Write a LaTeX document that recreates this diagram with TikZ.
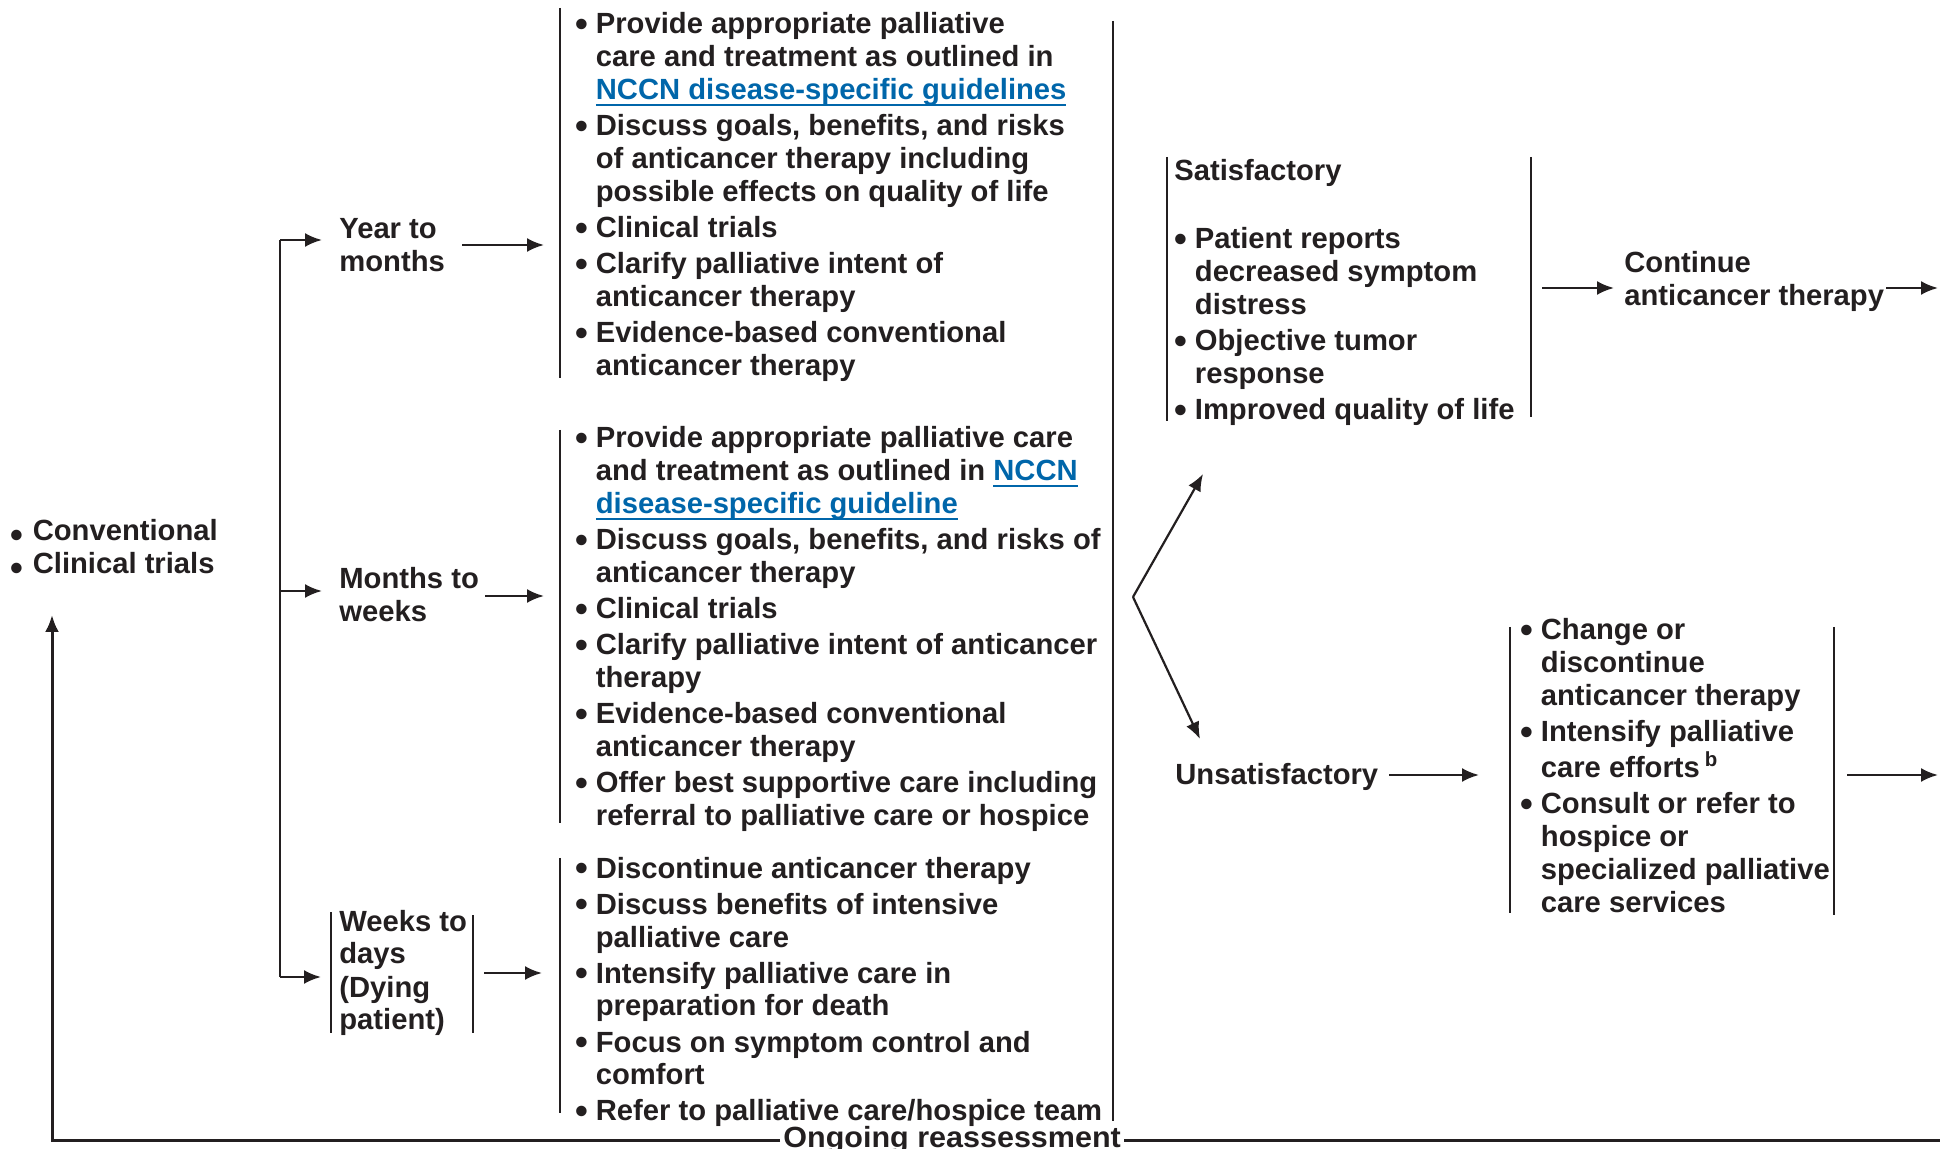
\documentclass[tikz,border=0pt]{standalone}
\usepackage{fontspec}
\setmainfont{Liberation Sans}
\usetikzlibrary{arrows.meta}
\definecolor{ink}{HTML}{231F20}
\definecolor{linkblue}{RGB}{0,102,170}
% bullets and underlined links
\newcommand{\bul}{\makebox[10.25pt][l]{\raisebox{-1.5pt}{\scalebox{1.25}{\textbullet}}}}
\newcommand{\lowbul}{\makebox[11.2pt][l]{\raisebox{-3.4pt}{\scalebox{1.25}{\textbullet}}}}
\newlength{\lnkw}
\newcommand{\lnk}[1]{\settowidth{\lnkw}{#1}\textcolor{linkblue}{\rlap{\rule[-3.1pt]{\lnkw}{1.1pt}}#1}}
\newcommand{\gap}{\\[1.5pt]}
\begin{document}
\begin{tikzpicture}[x=0.5pt,y=-0.5pt,
  txt/.style={inner sep=0pt, anchor=base west, text=ink,
    font=\fontsize{14.6}{16.5}\selectfont\bfseries},
  arr/.style={draw=ink, line width=1.2pt, -{Latex[length=8.5pt,width=7pt]}},
  bracket/.style={draw=ink, line width=1.1pt},
  loopline/.style={draw=ink, line width=1.5pt}]
\useasboundingbox (0,0) rectangle (1940,1149);

% ---------- text blocks ----------
\node[txt] (conv) at (10,541) {\begin{tabular}[t]{@{}l@{}l@{}}
\lowbul & Conventional\\
\lowbul & Clinical trials
\end{tabular}};

\node[txt] (ym) at (339,239) {\begin{tabular}[t]{@{}l@{}}Year to\\months\end{tabular}};
\node[txt] (mw) at (339,589) {\begin{tabular}[t]{@{}l@{}}Months to\\weeks\end{tabular}};
\node[txt] (wd) at (339,931) {\begin{tabular}[t]{@{}l@{}}Weeks to\\days\\(Dying\\patient)\end{tabular}};

\node[txt] (care1) at (575,34) {\begin{tabular}[t]{@{}l@{}l@{}}
\bul & Provide appropriate palliative\\
 & care and treatment as outlined in\\
 & \lnk{NCCN disease-specific guidelines}\gap
\bul & Discuss goals, benefits, and risks\\
 & of anticancer therapy including\\
 & possible effects on quality of life\gap
\bul & Clinical trials\gap
\bul & Clarify palliative intent of\\
 & anticancer therapy\gap
\bul & Evidence-based conventional\\
 & anticancer therapy
\end{tabular}};

\node[txt] (care2) at (575,448) {\begin{tabular}[t]{@{}l@{}l@{}}
\bul & Provide appropriate palliative care\\
 & and treatment as outlined in \lnk{NCCN}\\
 & \lnk{disease-specific guideline}\gap
\bul & Discuss goals, benefits, and risks of\\
 & anticancer therapy\gap
\bul & Clinical trials\gap
\bul & Clarify palliative intent of anticancer\\
 & therapy\gap
\bul & Evidence-based conventional\\
 & anticancer therapy\gap
\bul & Offer best supportive care including\\
 & referral to palliative care or hospice
\end{tabular}};

\node[txt] (care3) at (575,878) {\begin{tabular}[t]{@{}l@{}l@{}}
\bul & Discontinue anticancer therapy\gap
\bul & Discuss benefits of intensive\\
 & palliative care\gap
\bul & Intensify palliative care in\\
 & preparation for death\gap
\bul & Focus on symptom control and\\
 & comfort\gap
\bul & Refer to palliative care/hospice team
\end{tabular}};

\node[txt] (sat) at (1174,181) {\begin{tabular}[t]{@{}l@{}l@{}}
\multicolumn{2}{@{}l@{}}{Satisfactory}\\[17.5pt]
\bul & Patient reports\\
 & decreased symptom\\
 & distress\gap
\bul & Objective tumor\\
 & response\gap
\bul & Improved quality of life
\end{tabular}};

\node[txt] (cont) at (1624,273) {\begin{tabular}[t]{@{}l@{}}Continue\\anticancer therapy\end{tabular}};

\node[txt] (unsat) at (1175,785) {Unsatisfactory};

\node[txt] (act) at (1520,640) {\begin{tabular}[t]{@{}l@{}l@{}}
\bul & Change or\\
 & discontinue\\
 & anticancer therapy\gap
\bul & Intensify palliative\\
 & care efforts\,\textsuperscript{b}\gap
\bul & Consult or refer to\\
 & hospice or\\
 & specialized palliative\\
 & care services
\end{tabular}};

\node[txt, anchor=west, inner xsep=1.5pt] (ongoing) at (780,1140) {\scalebox{1.045}[1]{Ongoing reassessment}};

% ---------- side rules of the text groups ----------
\draw[bracket] (560,8) -- (560,378);
\draw[bracket] (560,430) -- (560,823);
\draw[bracket] (560,858) -- (560,1113);
\draw[bracket] (331,912) -- (331,1033);
\draw[bracket] (473,915) -- (473,1033);
\draw[bracket] (1113,21) -- (1113,1121);
\draw[bracket] (1167,157) -- (1167,421);
\draw[bracket] (1531,157) -- (1531,417);
\draw[bracket] (1510,627) -- (1510,913);
\draw[bracket] (1834,627) -- (1834,915);

% ---------- branching spine ----------
\coordinate (sp1) at (280,240);
\coordinate (sp2) at (280,591);
\coordinate (sp3) at (280,977);
\draw[draw=ink, line width=1.2pt] (sp1) -- (sp3);
\draw[arr] (sp1) -- (322,240);
\draw[arr] (sp2) -- (322,591);
\draw[arr] (sp3) -- (321,977);

% ---------- arrows into the care lists ----------
\draw[arr] (462,245) -- (544,245);
\draw[arr] (485,596) -- (544,596);
\draw[arr] (484,973) -- (542,973);

% ---------- response fork ----------
\coordinate (fork) at (1133,597);
\coordinate (forkup) at (1203,474);
\coordinate (forkdown) at (1200,739);
\draw[arr, line width=1.1pt] (fork) -- (forkup);
\draw[arr, line width=1.1pt] (fork) -- (forkdown);

% ---------- outcome arrows ----------
\draw[arr] (1542,288) -- (1614,288);
\draw[arr] (1886,288) -- (1938,288);
\draw[arr] (1389,775) -- (1479,775);
\draw[arr] (1847,775) -- (1938,775);

% ---------- reassessment loop ----------
\coordinate (loopcorner) at (52,1140);
\coordinate (looptip) at (52,615);
\draw[loopline, line join=miter, -{Latex[length=8.5pt,width=7pt]}] (ongoing.west) -- (loopcorner) -- (looptip);
\draw[loopline] (ongoing.east) -- (1940,1140);
\end{tikzpicture}
\end{document}
